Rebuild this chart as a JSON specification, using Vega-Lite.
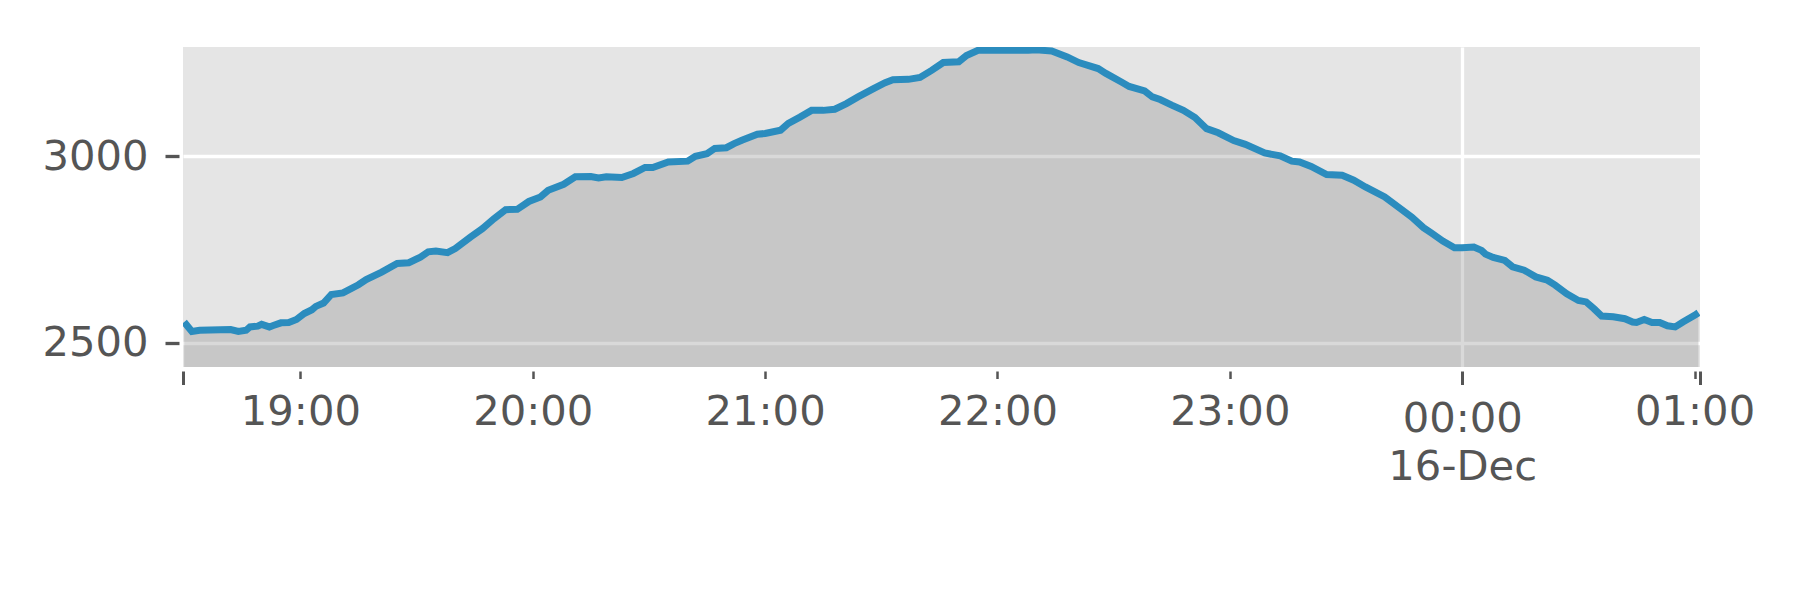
{
  "$schema": "https://vega.github.io/schema/vega-lite/v6.json",
  "width": 1517,
  "height": 320,
  "autosize": {"type": "none"},
  "padding": {"left": 183, "top": 47, "right": 100, "bottom": 233},
  "background": "white",
  "config": {
    "view": {"fill": "#E5E5E5", "stroke": null},
    "font": "DejaVu Sans",
    "axis": {"labelFont": "DejaVu Sans", "labelColor": "#555555", "tickColor": "#555555", "domain": false, "title": null, "labelOverlap": false, "labelFlush": false, "labelBound": false}
  },
  "data": {
    "values": [
      {"t": "2023-12-15T18:30:00", "v": 2556},
      {"t": "2023-12-15T18:32:00", "v": 2531},
      {"t": "2023-12-15T18:34:00", "v": 2534},
      {"t": "2023-12-15T18:42:00", "v": 2536},
      {"t": "2023-12-15T18:44:00", "v": 2531},
      {"t": "2023-12-15T18:46:00", "v": 2534},
      {"t": "2023-12-15T18:47:00", "v": 2543},
      {"t": "2023-12-15T18:49:00", "v": 2545},
      {"t": "2023-12-15T18:50:00", "v": 2550},
      {"t": "2023-12-15T18:52:00", "v": 2543},
      {"t": "2023-12-15T18:53:00", "v": 2547},
      {"t": "2023-12-15T18:55:00", "v": 2554},
      {"t": "2023-12-15T18:57:00", "v": 2555},
      {"t": "2023-12-15T18:59:00", "v": 2563},
      {"t": "2023-12-15T19:01:00", "v": 2579},
      {"t": "2023-12-15T19:03:00", "v": 2589},
      {"t": "2023-12-15T19:04:00", "v": 2598},
      {"t": "2023-12-15T19:06:00", "v": 2607},
      {"t": "2023-12-15T19:08:00", "v": 2630},
      {"t": "2023-12-15T19:11:00", "v": 2634},
      {"t": "2023-12-15T19:15:00", "v": 2656},
      {"t": "2023-12-15T19:17:00", "v": 2670},
      {"t": "2023-12-15T19:21:00", "v": 2690},
      {"t": "2023-12-15T19:25:00", "v": 2713},
      {"t": "2023-12-15T19:28:00", "v": 2715},
      {"t": "2023-12-15T19:31:00", "v": 2730},
      {"t": "2023-12-15T19:33:00", "v": 2744},
      {"t": "2023-12-15T19:35:00", "v": 2746},
      {"t": "2023-12-15T19:38:00", "v": 2742},
      {"t": "2023-12-15T19:40:00", "v": 2753},
      {"t": "2023-12-15T19:44:00", "v": 2784},
      {"t": "2023-12-15T19:47:00", "v": 2806},
      {"t": "2023-12-15T19:50:00", "v": 2833},
      {"t": "2023-12-15T19:53:00", "v": 2857},
      {"t": "2023-12-15T19:56:00", "v": 2858},
      {"t": "2023-12-15T19:59:00", "v": 2879},
      {"t": "2023-12-15T20:02:00", "v": 2891},
      {"t": "2023-12-15T20:04:00", "v": 2909},
      {"t": "2023-12-15T20:08:00", "v": 2925},
      {"t": "2023-12-15T20:11:00", "v": 2945},
      {"t": "2023-12-15T20:15:00", "v": 2946},
      {"t": "2023-12-15T20:17:00", "v": 2942},
      {"t": "2023-12-15T20:19:00", "v": 2945},
      {"t": "2023-12-15T20:23:00", "v": 2943},
      {"t": "2023-12-15T20:26:00", "v": 2954},
      {"t": "2023-12-15T20:29:00", "v": 2970},
      {"t": "2023-12-15T20:31:00", "v": 2970},
      {"t": "2023-12-15T20:35:00", "v": 2985},
      {"t": "2023-12-15T20:40:00", "v": 2987},
      {"t": "2023-12-15T20:42:00", "v": 3000},
      {"t": "2023-12-15T20:45:00", "v": 3007},
      {"t": "2023-12-15T20:47:00", "v": 3021},
      {"t": "2023-12-15T20:50:00", "v": 3023},
      {"t": "2023-12-15T20:52:00", "v": 3034},
      {"t": "2023-12-15T20:54:00", "v": 3043},
      {"t": "2023-12-15T20:58:00", "v": 3059},
      {"t": "2023-12-15T21:00:00", "v": 3061},
      {"t": "2023-12-15T21:04:00", "v": 3070},
      {"t": "2023-12-15T21:06:00", "v": 3088},
      {"t": "2023-12-15T21:09:00", "v": 3105},
      {"t": "2023-12-15T21:12:00", "v": 3123},
      {"t": "2023-12-15T21:15:00", "v": 3123},
      {"t": "2023-12-15T21:18:00", "v": 3126},
      {"t": "2023-12-15T21:21:00", "v": 3141},
      {"t": "2023-12-15T21:24:00", "v": 3159},
      {"t": "2023-12-15T21:28:00", "v": 3181},
      {"t": "2023-12-15T21:31:00", "v": 3197},
      {"t": "2023-12-15T21:33:00", "v": 3205},
      {"t": "2023-12-15T21:37:00", "v": 3206},
      {"t": "2023-12-15T21:40:00", "v": 3211},
      {"t": "2023-12-15T21:43:00", "v": 3230},
      {"t": "2023-12-15T21:46:00", "v": 3251},
      {"t": "2023-12-15T21:50:00", "v": 3253},
      {"t": "2023-12-15T21:52:00", "v": 3270},
      {"t": "2023-12-15T21:55:00", "v": 3284},
      {"t": "2023-12-15T21:59:00", "v": 3284},
      {"t": "2023-12-15T22:08:00", "v": 3284},
      {"t": "2023-12-15T22:10:00", "v": 3285},
      {"t": "2023-12-15T22:14:00", "v": 3282},
      {"t": "2023-12-15T22:18:00", "v": 3266},
      {"t": "2023-12-15T22:21:00", "v": 3251},
      {"t": "2023-12-15T22:26:00", "v": 3235},
      {"t": "2023-12-15T22:28:00", "v": 3222},
      {"t": "2023-12-15T22:32:00", "v": 3199},
      {"t": "2023-12-15T22:34:00", "v": 3187},
      {"t": "2023-12-15T22:38:00", "v": 3175},
      {"t": "2023-12-15T22:40:00", "v": 3159},
      {"t": "2023-12-15T22:42:00", "v": 3152},
      {"t": "2023-12-15T22:45:00", "v": 3137},
      {"t": "2023-12-15T22:48:00", "v": 3123},
      {"t": "2023-12-15T22:51:00", "v": 3104},
      {"t": "2023-12-15T22:54:00", "v": 3074},
      {"t": "2023-12-15T22:57:00", "v": 3063},
      {"t": "2023-12-15T23:01:00", "v": 3042},
      {"t": "2023-12-15T23:04:00", "v": 3032},
      {"t": "2023-12-15T23:09:00", "v": 3009},
      {"t": "2023-12-15T23:13:00", "v": 3001},
      {"t": "2023-12-15T23:16:00", "v": 2987},
      {"t": "2023-12-15T23:18:00", "v": 2985},
      {"t": "2023-12-15T23:21:00", "v": 2973},
      {"t": "2023-12-15T23:25:00", "v": 2951},
      {"t": "2023-12-15T23:29:00", "v": 2949},
      {"t": "2023-12-15T23:32:00", "v": 2936},
      {"t": "2023-12-15T23:35:00", "v": 2918},
      {"t": "2023-12-15T23:40:00", "v": 2891},
      {"t": "2023-12-15T23:44:00", "v": 2860},
      {"t": "2023-12-15T23:47:00", "v": 2837},
      {"t": "2023-12-15T23:50:00", "v": 2809},
      {"t": "2023-12-15T23:52:00", "v": 2795},
      {"t": "2023-12-15T23:55:00", "v": 2773},
      {"t": "2023-12-15T23:58:00", "v": 2755},
      {"t": "2023-12-16T00:00:00", "v": 2755},
      {"t": "2023-12-16T00:03:00", "v": 2757},
      {"t": "2023-12-16T00:05:00", "v": 2748},
      {"t": "2023-12-16T00:06:00", "v": 2738},
      {"t": "2023-12-16T00:08:00", "v": 2729},
      {"t": "2023-12-16T00:11:00", "v": 2721},
      {"t": "2023-12-16T00:13:00", "v": 2704},
      {"t": "2023-12-16T00:16:00", "v": 2695},
      {"t": "2023-12-16T00:19:00", "v": 2677},
      {"t": "2023-12-16T00:22:00", "v": 2668},
      {"t": "2023-12-16T00:24:00", "v": 2655},
      {"t": "2023-12-16T00:27:00", "v": 2632},
      {"t": "2023-12-16T00:30:00", "v": 2614},
      {"t": "2023-12-16T00:32:00", "v": 2610},
      {"t": "2023-12-16T00:34:00", "v": 2592},
      {"t": "2023-12-16T00:36:00", "v": 2572},
      {"t": "2023-12-16T00:39:00", "v": 2570},
      {"t": "2023-12-16T00:42:00", "v": 2565},
      {"t": "2023-12-16T00:44:00", "v": 2556},
      {"t": "2023-12-16T00:45:00", "v": 2555},
      {"t": "2023-12-16T00:47:00", "v": 2563},
      {"t": "2023-12-16T00:49:00", "v": 2555},
      {"t": "2023-12-16T00:51:00", "v": 2555},
      {"t": "2023-12-16T00:53:00", "v": 2546},
      {"t": "2023-12-16T00:55:00", "v": 2543},
      {"t": "2023-12-16T00:57:00", "v": 2556},
      {"t": "2023-12-16T01:00:00", "v": 2574},
      {"t": "2023-12-16T01:01:00", "v": 2581}
    ]
  },
  "layer": [
    {
      "mark": {"type": "area", "color": "#808080", "opacity": 0.3, "clip": true},
      "encoding": {
        "x": {
          "field": "t", "type": "temporal",
          "scale": {"domain": [
            {"year": 2023, "month": 12, "date": 15, "hours": 18, "minutes": 29, "seconds": 42},
            {"year": 2023, "month": 12, "date": 16, "hours": 1, "minutes": 1, "seconds": 24}
          ]},
          "axis": {
            "orient": "bottom",
            "values": [
              {"year": 2023, "month": 12, "date": 15, "hours": 19},
              {"year": 2023, "month": 12, "date": 15, "hours": 20},
              {"year": 2023, "month": 12, "date": 15, "hours": 21},
              {"year": 2023, "month": 12, "date": 15, "hours": 22},
              {"year": 2023, "month": 12, "date": 15, "hours": 23},
              {"year": 2023, "month": 12, "date": 16, "hours": 1}
            ],
            "format": "%H:%M",
            "grid": false,
            "offset": 4,
            "tickSize": 7.5,
            "tickWidth": 2.5,
            "labelPadding": 13,
            "labelFontSize": 41.7,
            "labelBaseline": "top"
          }
        },
        "y": {
          "field": "v", "type": "quantitative",
          "scale": {"domain": [2435.7, 3292.7], "nice": false, "zero": false},
          "axis": {
            "values": [2500, 3000],
            "format": "d",
            "grid": true,
            "gridColor": "#FFFFFF",
            "gridWidth": 3.3,
            "offset": 4,
            "tickSize": 14,
            "tickWidth": 3.3,
            "labelPadding": 17,
            "labelFontSize": 41.7
          }
        }
      }
    },
    {
      "mark": {"type": "line", "color": "#2B8CBE", "strokeWidth": 7, "clip": true},
      "encoding": {
        "x": {
          "field": "t", "type": "temporal",
          "scale": {"domain": [
            {"year": 2023, "month": 12, "date": 15, "hours": 18, "minutes": 29, "seconds": 42},
            {"year": 2023, "month": 12, "date": 16, "hours": 1, "minutes": 1, "seconds": 24}
          ]},
          "axis": {
            "orient": "bottom",
            "values": [
              {"year": 2023, "month": 12, "date": 15, "hours": 18, "minutes": 29, "seconds": 42},
              {"year": 2023, "month": 12, "date": 16, "hours": 0},
              {"year": 2023, "month": 12, "date": 16, "hours": 1, "minutes": 1, "seconds": 24}
            ],
            "labelExpr": "hours(datum.value) === 0 && minutes(datum.value) === 0 ? [timeFormat(datum.value, '%H:%M'), timeFormat(datum.value, '%d-%b')] : ''",
            "grid": true,
            "gridColor": "#FFFFFF",
            "gridWidth": 3.3,
            "gridOpacity": {"condition": {"test": "hours(datum.value) === 0 && minutes(datum.value) === 0", "value": 1}, "value": 0},
            "offset": 4,
            "tickSize": 13.5,
            "tickWidth": 3,
            "labelPadding": 13.5,
            "labelFontSize": 41.7,
            "labelBaseline": "top",
            "labelLineHeight": 48
          }
        },
        "y": {
          "field": "v", "type": "quantitative",
          "scale": {"domain": [2435.7, 3292.7], "nice": false, "zero": false},
          "axis": {
            "values": [2500, 3000],
            "format": "d",
            "grid": true,
            "gridColor": "#FFFFFF",
            "gridWidth": 3.3,
            "offset": 4,
            "tickSize": 14,
            "tickWidth": 3.3,
            "labelPadding": 17,
            "labelFontSize": 41.7
          }
        }
      }
    }
  ],
  "resolve": {"axis": {"x": "independent"}}
}
